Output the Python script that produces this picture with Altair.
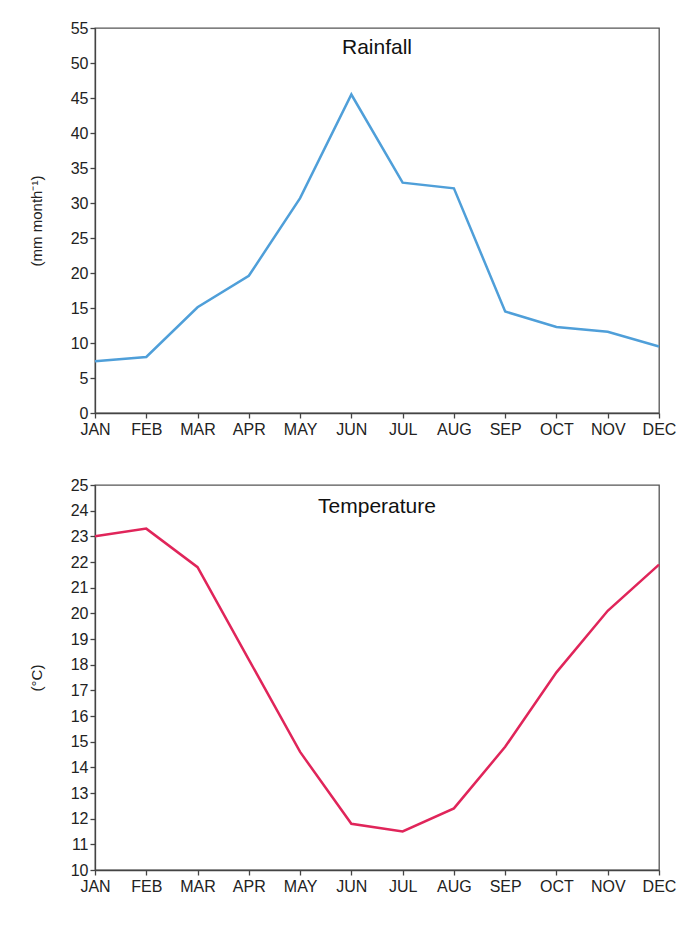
import altair as alt
import pandas as pd

months = ["JAN", "FEB", "MAR", "APR", "MAY", "JUN", "JUL", "AUG", "SEP", "OCT", "NOV", "DEC"]
rainfall = [7.4, 8.0, 15.1, 19.6, 30.7, 45.5, 32.9, 32.1, 14.5, 12.3, 11.6, 9.5]
temperature = [23.0, 23.3, 21.8, 18.2, 14.6, 11.8, 11.5, 12.4, 14.8, 17.7, 20.1, 21.9]

FONT = "Liberation Sans"
W, H = 564, 385

rain_df = pd.DataFrame({"month": months, "value": rainfall})
temp_df = pd.DataFrame({"month": months, "value": temperature})


def panel(df, color, ymin, ymax, step, ytitle, title, title_y):
    x = alt.X("month:O", sort=months, scale=alt.Scale(padding=0),
              axis=alt.Axis(title=None, labelAngle=0, labelFontSize=16, labelFont=FONT,
                            labelColor="#222", tickColor="#444", domainColor="#444",
                            domainWidth=1.3, tickWidth=1.3,
                            tickSize=5, labelPadding=3, grid=False, labelOverlap=False))
    y = alt.Y("value:Q", scale=alt.Scale(domain=[ymin, ymax], nice=False, zero=False),
              axis=alt.Axis(title=ytitle, values=list(range(ymin, ymax + 1, step)),
                            labelFontSize=16, labelFont=FONT, labelColor="#222",
                            titleFont=FONT, titleFontSize=15, titleFontWeight="normal",
                            titleColor="#222", titlePadding=26, tickColor="#444",
                            domainColor="#444", domainWidth=1.3, tickWidth=1.3,
                            tickSize=5, labelPadding=2, grid=False))
    line = alt.Chart(df).mark_line(color=color, strokeWidth=2.5).encode(x=x, y=y)
    txt = alt.Chart(pd.DataFrame({"t": [title]})).mark_text(
        font=FONT, fontSize=21, color="#111", baseline="middle", align="center"
    ).encode(text="t:N", x=alt.value(W / 2), y=alt.value(title_y))
    return alt.layer(line, txt).properties(
        width=W, height=H, view=alt.ViewBackground(stroke="#555", strokeWidth=1.3)
    )


top = panel(rain_df, "#4f9fd9", 0, 55, 5, "(mm month⁻¹)", "Rainfall", 20)
bottom = panel(temp_df, "#e0255a", 10, 25, 1, "(°C)", "Temperature", 22)

chart = alt.vconcat(top, bottom, spacing=38).properties(
    padding={"left": 20, "top": 11, "right": 0, "bottom": 5}
).configure_view(stroke="#555", strokeWidth=1.3).configure(background="white")

chart.save("out.html", embed_options={"renderer": "svg", "actions": False})
